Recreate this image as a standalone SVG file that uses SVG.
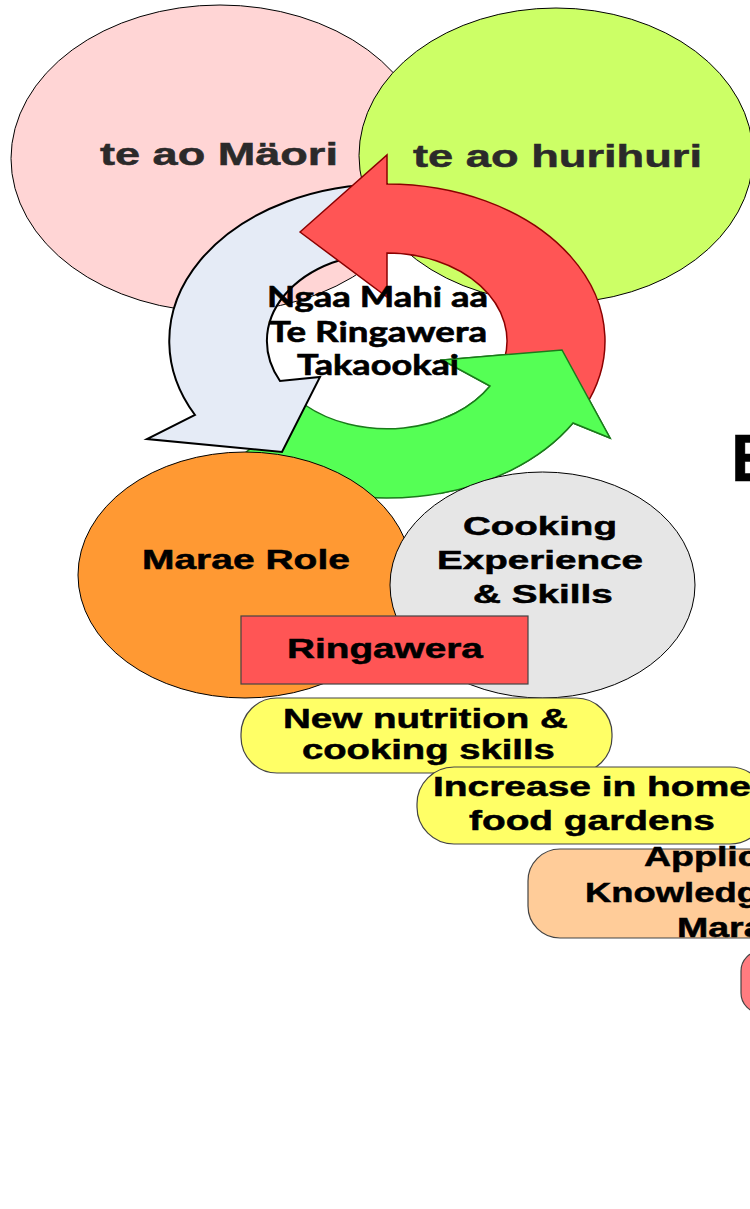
<svg xmlns="http://www.w3.org/2000/svg" xmlns:xlink="http://www.w3.org/1999/xlink" width="750" height="1209" viewBox="0 0 750 1209">
<style>
.lbl{font-family:"Liberation Sans",Arial,sans-serif;font-weight:bold;fill:#000;stroke:#000;stroke-width:0.5}
.top{font-size:32px;fill:#2b2a2a;stroke:#2b2a2a}
.f28{font-size:28px}
.f25{font-size:25px}
.ctr{font-family:Lato,"Open Sans",sans-serif;font-weight:bold;font-size:28px;fill:#000;stroke:#000;stroke-width:0.6}
.el{stroke:#000;stroke-width:1}
.box{stroke:#444;stroke-width:1.2}
</style>
<defs>
<clipPath id="rightPart"><rect x="440" y="300" width="310" height="220"/></clipPath>
</defs>
<rect width="750" height="1209" fill="#fff"/>
<g id="te-ao-maori">
<ellipse class="el" cx="220" cy="158.5" rx="209" ry="153.5" fill="#ffd5d5"/>
<text class="lbl top" transform="translate(100,165) scale(1.409,1)">te ao Mäori</text>
</g>
<g id="te-ao-hurihuri">
<ellipse class="el" cx="556" cy="155.5" rx="197" ry="147.5" fill="#ccff66"/>
<text class="lbl top" transform="translate(413,167) scale(1.414,1)">te ao hurihuri</text>
</g>
<g id="connectors">
<path id="arrow-green" d="M610,438 L573,423 A218 157 0 0 1 240,457 L305,405 A120 88 0 0 0 490,386 L442,360 L562,350 Z" fill="#55ff55" stroke="#1b7a1b" stroke-width="1.5"/>
<path id="arrow-blue" d="M387,184 A218 157 0 0 0 195,415 L147,439 L282,452 L320,377 L280,381 A120 88 0 0 1 387,253 Z" fill="#e5ebf6" stroke="#000" stroke-width="2"/>
<path id="arrow-red" d="M300,232 L387,155 L387,184 A218 157 0 0 1 584.6,407.3 L504.4,359.3 A120 88 0 0 0 387,253 L387,297 Z" fill="#ff5555" stroke="#8b0000" stroke-width="1.5"/>
<use xlink:href="#arrow-green" href="#arrow-green" clip-path="url(#rightPart)"/>
</g>
<g id="cycle-label">
<text class="ctr" x="267" y="307" textLength="221" lengthAdjust="spacingAndGlyphs">Ngaa Mahi aa</text>
<text class="ctr" x="269" y="342" textLength="218" lengthAdjust="spacingAndGlyphs">Te Ringawera</text>
<text class="ctr" x="297" y="375" textLength="162" lengthAdjust="spacingAndGlyphs">Takaookai</text>
</g>
<g id="marae-role">
<ellipse class="el" cx="245" cy="575" rx="167" ry="123" fill="#ff9933"/>
<text class="lbl f28" transform="translate(142,569) scale(1.392,1)">Marae Role</text>
</g>
<g id="cooking-experience">
<ellipse class="el" cx="542.5" cy="585" rx="152.5" ry="113" fill="#e6e6e6"/>
<text class="lbl f25" transform="translate(463,535) scale(1.54,1)">Cooking</text>
<text class="lbl f25" transform="translate(437,569) scale(1.544,1)">Experience</text>
<text class="lbl f25" transform="translate(473,603) scale(1.547,1)">&amp; Skills</text>
</g>
<g id="ringawera">
<rect class="box" x="241" y="616" width="287" height="68" fill="#ff5555"/>
<text class="lbl f28" transform="translate(287,658) scale(1.384,1)">Ringawera</text>
</g>
<g id="nutrition">
<rect class="box" x="241" y="698" width="371" height="75" rx="36" ry="36" fill="#ffff66"/>
<text class="lbl f28" transform="translate(283,728) scale(1.377,1)">New nutrition &amp;</text>
<text class="lbl f28" transform="translate(302,759) scale(1.366,1)">cooking skills</text>
</g>
<g id="gardens">
<rect class="box" x="417" y="767" width="350" height="77" rx="37" ry="37" fill="#ffff66"/>
<text class="lbl f28" transform="translate(433,796) scale(1.39,1)">Increase in home</text>
<text class="lbl f28" transform="translate(469,830) scale(1.387,1)">food gardens</text>
</g>
<g id="application">
<rect class="box" x="528" y="849" width="280" height="89" rx="32" ry="32" fill="#ffcc99"/>
<text class="lbl f28" transform="translate(644,866) scale(1.34,1)">Applic</text>
<text class="lbl f28" transform="translate(585,902) scale(1.3,1)">Knowledg</text>
<text class="lbl f28" transform="translate(677,937) scale(1.34,1)">Mara</text>
</g>
<g id="box-four">
<rect class="box" x="741" y="951" width="60" height="62" rx="20" ry="20" fill="#ff7c80"/>
</g>
<g id="title-fragment">
<text class="lbl" x="731" y="481" font-size="66">E</text>
</g>
</svg>
